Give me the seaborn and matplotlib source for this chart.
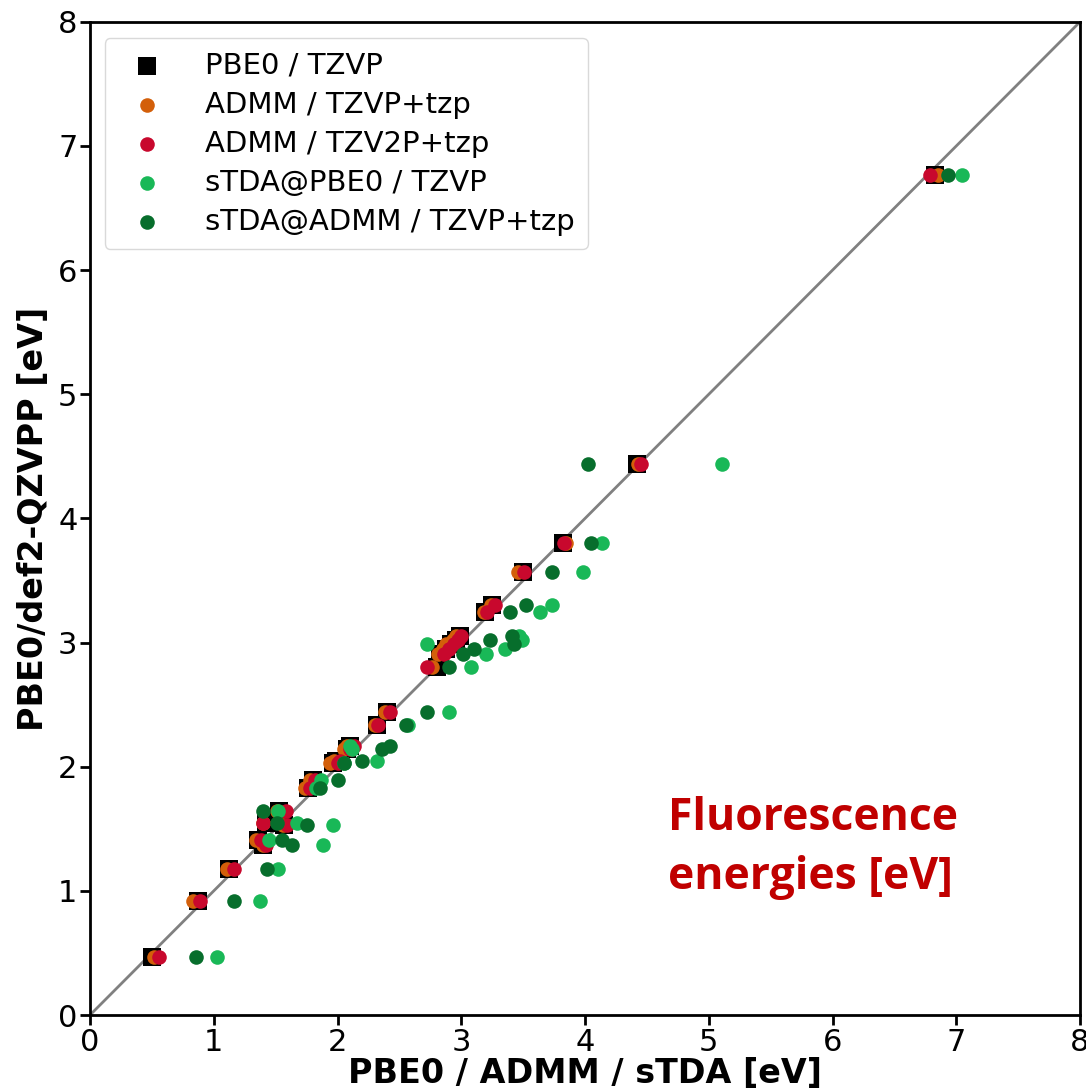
import numpy as np
import pandas as pd
import matplotlib
matplotlib.use("Agg")
import matplotlib.pyplot as plt
import seaborn as sns

# Reference values (PBE0/def2-QZVPP) per molecule
y_ref = [0.47, 0.92, 1.18, 1.41, 1.37, 1.64, 1.55, 1.53, 1.83, 1.89, 2.03, 2.05, 2.14, 2.17,
         2.34, 2.44, 2.80, 2.91, 2.95, 2.99, 3.02, 3.05, 3.25, 3.30, 3.57, 3.80, 4.44, 6.77]

pbe0_tzvp = [0.50, 0.87, 1.12, 1.36, 1.40, 1.53, 1.42, 1.57, 1.76, 1.80, 1.96, 1.99, 2.08, 2.10,
             2.32, 2.40, 2.80, 2.83, 2.88, 2.92, 2.96, 2.99, 3.19, 3.25, 3.50, 3.82, 4.42, 6.83]
admm_tzvp = [0.52, 0.83, 1.11, 1.34, 1.40, 1.51, 1.40, 1.56, 1.74, 1.78, 1.94, 1.97, 2.05, 2.08,
             2.30, 2.38, 2.76, 2.81, 2.85, 2.88, 2.93, 2.96, 3.18, 3.24, 3.46, 3.85, 4.43, 6.85]
admm_tzv2p = [0.56, 0.89, 1.16, 1.38, 1.42, 1.58, 1.40, 1.59, 1.78, 1.82, 2.00, 2.02, 2.10, 2.13,
              2.33, 2.42, 2.72, 2.86, 2.90, 2.94, 2.97, 3.00, 3.21, 3.27, 3.51, 3.83, 4.45, 6.79]
stda_pbe0 = [1.03, 1.37, 1.52, 1.45, 1.88, 1.52, 1.67, 1.96, 1.83, 1.87, 2.05, 2.32, 2.12, 2.10,
             2.57, 2.90, 3.08, 3.20, 3.35, 2.72, 3.49, 3.47, 3.64, 3.73, 3.98, 4.14, 5.11, 7.05]
stda_admm = [0.86, 1.16, 1.43, 1.55, 1.63, 1.40, 1.51, 1.75, 1.86, 2.00, 2.05, 2.20, 2.36, 2.42,
             2.55, 2.72, 2.90, 3.01, 3.10, 3.43, 3.23, 3.41, 3.39, 3.52, 3.73, 4.05, 4.02, 6.93]

series_names = ["PBE0 / TZVP", "ADMM / TZVP+tzp", "ADMM / TZV2P+tzp",
                "sTDA@PBE0 / TZVP", "sTDA@ADMM / TZVP+tzp"]
series_x = [pbe0_tzvp, admm_tzvp, admm_tzv2p, stda_pbe0, stda_admm]
series_colors = ["#000000", "#d35f0a", "#c8082d", "#19b857", "#076e2c"]
series_markers = ["s", "o", "o", "o", "o"]
series_sizes = [160, 110, 110, 110, 110]

sns.set_theme(style="white")
plt.rcParams['font.family'] = ['DejaVu Sans']
plt.rcParams['text.color'] = 'black'
plt.rcParams['axes.labelcolor'] = 'black'
plt.rcParams['xtick.color'] = 'black'
plt.rcParams['ytick.color'] = 'black'

fig = plt.figure(figsize=(10.86, 10.92), dpi=100)
ax = fig.add_axes([0.0829, 0.0705, 0.9116, 0.9095])

ax.plot([0, 8], [0, 8], color="#808080", lw=2, zorder=1)

for name, xs, c, m, s in zip(series_names, series_x, series_colors, series_markers, series_sizes):
    df = pd.DataFrame({"x": xs, "y": y_ref})
    sns.scatterplot(data=df, x="x", y="y", ax=ax, color=c, marker=m, s=s,
                    linewidth=0, label=name, zorder=3)

ax.set_xlim(0, 8)
ax.set_ylim(0, 8)
ax.set_xticks(range(0, 9))
ax.set_yticks(range(0, 9))
ax.tick_params(axis="both", labelsize=22, direction="out", length=7, width=2, pad=2,
               bottom=True, left=True, colors="black")
for sp in ax.spines.values():
    sp.set_linewidth(2)
    sp.set_color("black")

ax.set_xlabel("PBE0 / ADMM / sTDA [eV]", fontsize=24, fontweight="bold", labelpad=0)
ax.set_ylabel("PBE0/def2-QZVPP [eV]", fontsize=24, fontweight="bold", labelpad=6)

leg = ax.legend(loc="upper left", fontsize=21, frameon=True, fancybox=True,
                handletextpad=1.0, handlelength=2.0, labelspacing=0.38, borderpad=0.45,
                bbox_to_anchor=(0.0, 0.998))
leg.get_frame().set_edgecolor("#d0d0d0")
leg.get_frame().set_linewidth(1)
for t in leg.get_texts():
    t.set_color("black")

ax.text(0.584, 0.168, "Fluorescence\nenergies [eV]", transform=ax.transAxes,
        fontsize=32, fontweight="bold", color="#c00000", ha="left", va="center",
        family=["Open Sans", "DejaVu Sans"], linespacing=1.4)

fig.savefig("out.png", dpi=100)
